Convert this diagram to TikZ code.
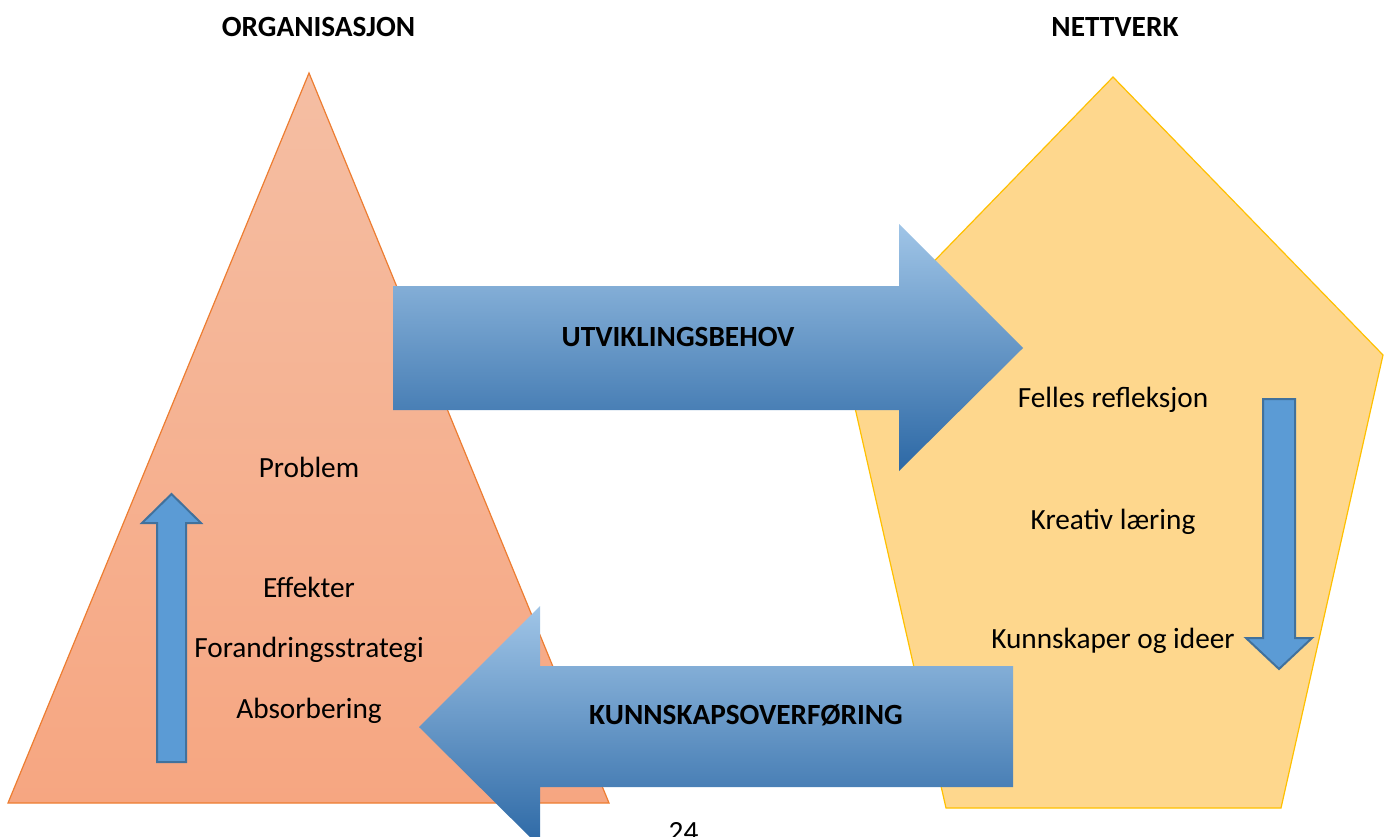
\documentclass[tikz,border=0pt]{standalone}
\usepackage{fontspec}
\setmainfont{Carlito}
\definecolor{triTop}{RGB}{245,190,163}
\definecolor{triBot}{RGB}{246,166,129}
\definecolor{triEdge}{RGB}{237,125,49}
\definecolor{penFill}{RGB}{254,215,141}
\definecolor{penEdge}{RGB}{255,192,0}
\definecolor{arrTop}{RGB}{160,197,231}
\definecolor{arrMid}{RGB}{95,157,212}
\definecolor{arrBot}{RGB}{44,104,165}
\definecolor{smFill}{RGB}{91,155,213}
\definecolor{smEdge}{RGB}{65,113,156}
\begin{document}
\begin{tikzpicture}[x=0.5pt,y=-0.5pt,
  lbl/.style={font=\fontsize{14.65}{17}\selectfont, anchor=base, inner sep=0pt},
  hdr/.style={font=\fontsize{14.65}{17}\selectfont\bfseries, anchor=base, inner sep=0pt},
  bigarrow/.style={top color=arrTop, middle color=arrMid, bottom color=arrBot},
  smallarrow/.style={fill=smFill, draw=smEdge, line width=1pt, line join=miter}]
\useasboundingbox (0,0) rectangle (1387,836);
% triangle (organisation)
\shade[top color=triTop, bottom color=triBot, draw=triEdge, line width=0.6pt]
  (309,73) -- (609,803) -- (8,803) -- cycle;
% pentagon (network)
\filldraw[fill=penFill, draw=penEdge, line width=0.6pt]
  (1113,77) -- (1383,355) -- (1281,808) -- (946,808) -- (843,355) -- cycle;
% big arrows
\shade[bigarrow] (393,286) -- (899,286) -- (899,224) -- (1023,348) -- (899,471) -- (899,410) -- (393,410) -- cycle;
\shade[bigarrow] (1013,666) -- (540,666) -- (540,606) -- (419,727) -- (540,847) -- (540,787) -- (1013,787) -- cycle;
% small arrows
\filldraw[smallarrow] (157,762) -- (157,523) -- (142,523) -- (171.5,494) -- (201,523) -- (186,523) -- (186,762) -- cycle;
\filldraw[smallarrow] (1263,399) -- (1295,399) -- (1295,638) -- (1312,638) -- (1279,669) -- (1246,638) -- (1263,638) -- cycle;
% texts
\node[hdr] (org) at (318.5,36) {ORGANISASJON};
\node[hdr] (net) at (1115,36) {NETTVERK};
\node[hdr] (utv) at (678,346) {UTVIKLINGSBEHOV};
\node[hdr] (kun) at (746,724) {KUNNSKAPSOVERFØRING};
\node[lbl] (prob) at (309,477) {Problem};
\node[lbl] (eff) at (309,597) {Effekter};
\node[lbl] (for) at (309,657) {Forandringsstrategi};
\node[lbl] (abs) at (309,718) {Absorbering};
\node[lbl] (fel) at (1113,407) {Felles refleksjon};
\node[lbl] (kre) at (1113,529) {Kreativ læring};
\node[lbl] (kui) at (1113,648) {Kunnskaper og ideer};
\node[lbl] (pg) at (683.5,841) {24};
\end{tikzpicture}
\end{document}
